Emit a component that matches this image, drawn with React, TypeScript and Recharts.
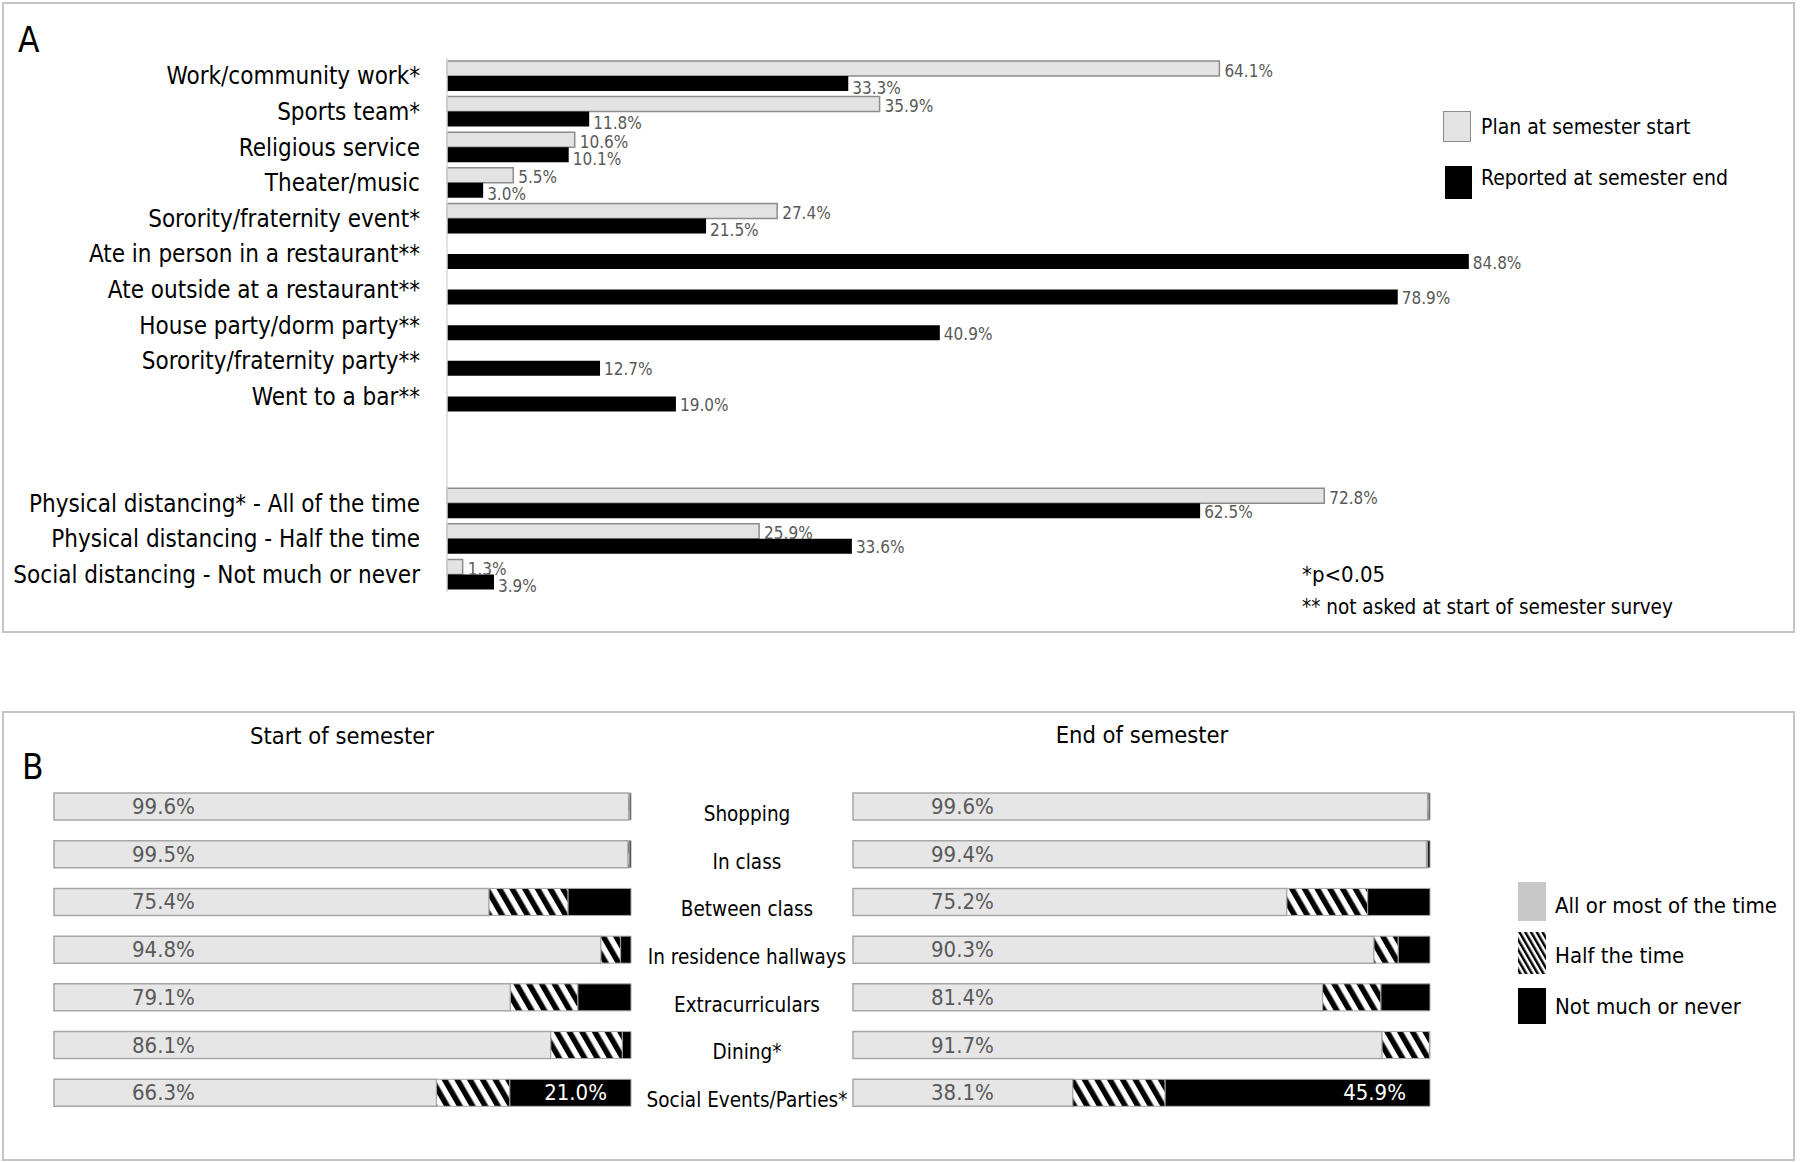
import React from 'react';
import { BarChart, Bar, XAxis, YAxis, LabelList } from 'recharts';

const FONT = "'DejaVu Sans Condensed', 'Liberation Sans Narrow', 'DejaVu Sans', sans-serif";

// Panel A: activities, plan at start vs reported at end (%)
const activities = [
  'Work/community work*',
  'Sports team*',
  'Religious service',
  'Theater/music',
  'Sorority/fraternity event*',
  'Ate in person in a restaurant**',
  'Ate outside at a restaurant**',
  'House party/dorm party**',
  'Sorority/fraternity party**',
  'Went to a bar**',
  ' ',
  '  ',
  'Physical distancing* - All of the time',
  'Physical distancing - Half the time',
  'Social distancing - Not much or never',
];
const planStart = [64.1, 35.9, 10.6, 5.5, 27.4, null, null, null, null, null, null, null, 72.8, 25.9, 1.3];
const reportedEnd = [33.3, 11.8, 10.1, 3.0, 21.5, 84.8, 78.9, 40.9, 12.7, 19.0, null, null, 62.5, 33.6, 3.9];

// Panel B: distancing by setting (%)
const settings = ['Shopping', 'In class', 'Between class', 'In residence hallways', 'Extracurriculars', 'Dining*', 'Social Events/Parties*'];
const startAll = [99.6, 99.5, 75.4, 94.8, 79.1, 86.1, 66.3];
const startHalf = [0.2, 0.2, 13.7, 3.4, 11.7, 12.4, 12.7];
const startNot = [0.2, 0.3, 10.9, 1.8, 9.2, 1.5, 21.0];
const endAll = [99.6, 99.4, 75.2, 90.3, 81.4, 91.7, 38.1];
const endHalf = [0.2, 0.2, 14.0, 4.2, 10.1, 8.2, 16.0];
const endNot = [0.2, 0.4, 10.8, 5.5, 8.5, 0.1, 45.9];

const dataA = activities.map((name, i) => ({ name, plan: planStart[i], reported: reportedEnd[i] }));
const dataStart = settings.map((name, i) => ({ name, all: startAll[i], half: startHalf[i], not: startNot[i] }));
const dataEnd = settings.map((name, i) => ({ name, all: endAll[i], half: endHalf[i], not: endNot[i] }));

const pct = (v: any) => `${Number(v).toFixed(1)}%`;

const planLabel = (props: any) => {
  const { x, y, width, height, value } = props;
  if (value == null) return null;
  return (
    <text x={Number(x) + Number(width) + 5} y={Number(y) + Number(height) / 2 + 2} dominantBaseline="central"
      fill="#595959" fontSize={17} fontFamily={FONT}>{pct(value)}</text>
  );
};

// reported labels sit a little lower when a plan bar is drawn above them
const reportedLabel = (props: any) => {
  const { x, y, width, height, value, index } = props;
  if (value == null) return null;
  const dy = planStart[index] == null ? 1 : 4;
  return (
    <text x={Number(x) + Number(width) + 4} y={Number(y) + Number(height) / 2 + dy} dominantBaseline="central"
      fill="#595959" fontSize={17} fontFamily={FONT}>{pct(value)}</text>
  );
};

const allLabel = (props: any) => {
  const { x, y, height, value } = props;
  return (
    <text x={Number(x) + 78} y={Number(y) + Number(height) / 2} dominantBaseline="central"
      fill="#595959" fontSize={22} fontFamily={FONT}>{pct(value)}</text>
  );
};

const notLabel = (props: any) => {
  const { x, y, width, height, value } = props;
  if (value == null || value < 20) return null;
  return (
    <text x={Number(x) + Number(width) - 24} y={Number(y) + Number(height) / 2} dominantBaseline="central"
      textAnchor="end" fill="#fff" fontSize={22} fontFamily={FONT}>{pct(value)}</text>
  );
};

function HatchDefs({ id, size = 11, stroke = 5.5 }: { id: string; size?: number; stroke?: number }) {
  return (
    <defs>
      <pattern id={id} width={size} height={size} patternUnits="userSpaceOnUse" patternTransform="rotate(-30)">
        <rect width={size} height={size} fill="#fff" />
        <rect width={stroke} height={size} fill="#000" />
      </pattern>
    </defs>
  );
}

function StackedPanel({ data, id, withLabels }: { data: any[]; id: string; withLabels?: boolean }) {
  const w = withLabels ? 860 : 700;
  return (
    <BarChart
      width={w}
      height={448}
      data={data}
      layout="vertical"
      barSize={27}
      margin={withLabels ? { top: 72, right: 70, bottom: 42, left: 0 } : { top: 72, right: 69, bottom: 42, left: 54 }}
    >
      <HatchDefs id={id} />
      <XAxis type="number" domain={[0, 100]} hide />
      <YAxis
        type="category"
        dataKey="name"
        hide={!withLabels}
        width={213}
        axisLine={false}
        tickLine={false}
        interval={0}
        tick={(p: any) => (
          <text x={107} y={Number(p.y) + 7} textAnchor="middle" dominantBaseline="central"
            fill="#000" fontSize={20.5} fontFamily={FONT}>{p.payload.value}</text>
        )}
      />
      <Bar dataKey="all" stackId="s" fill="#e6e6e6" stroke="#a6a6a6" strokeWidth={1.5} isAnimationActive={false}>
        <LabelList dataKey="all" content={allLabel} />
      </Bar>
      <Bar dataKey="half" stackId="s" fill={`url(#${id})`} stroke="#a6a6a6" strokeWidth={1} isAnimationActive={false} />
      <Bar dataKey="not" stackId="s" fill="#000" stroke="#a6a6a6" strokeWidth={1} isAnimationActive={false}>
        <LabelList dataKey="not" content={notLabel} />
      </Bar>
    </BarChart>
  );
}

const abs = (left: number, top: number): React.CSSProperties => ({ position: 'absolute', left, top });

function Txt({ x, y, size, children, center }: { x: number; y: number; size: number; children: React.ReactNode; center?: boolean }) {
  return (
    <div style={{
      ...abs(x, y), fontSize: size, fontFamily: FONT, color: '#000', whiteSpace: 'nowrap', lineHeight: 1,
      transform: center ? 'translate(-50%, -50%)' : 'translateY(-50%)',
    }}>{children}</div>
  );
}

export default function App() {
  return (
    <div style={{ position: 'absolute', left: 0, top: 0, width: 1800, height: 1162, background: '#fff', fontFamily: FONT }}>
      {/* panel frames */}
      <div style={{ ...abs(2, 2), width: 1789, height: 627, border: '2px solid #c4c4c4' }} />
      <div style={{ ...abs(2, 711), width: 1789, height: 446, border: '2px solid #c4c4c4' }} />

      <Txt x={18} y={40} size={35}>A</Txt>
      <Txt x={22} y={767} size={35}>B</Txt>

      <div style={abs(0, 0)}>
        <BarChart
          width={1800}
          height={640}
          data={dataA}
          layout="vertical"
          barSize={15}
          barGap={0}
          margin={{ top: 58, right: 148, bottom: 48, left: 0 }}
        >
          <XAxis type="number" domain={[0, 100]} hide />
          <YAxis
            type="category"
            dataKey="name"
            width={447}
            interval={0}
            tickLine={false}
            tickMargin={21}
            axisLine={{ stroke: '#d9d9d9', strokeWidth: 1.5 }}
            tick={{ fill: '#000', fontSize: 24, fontFamily: FONT }}
          />
          <Bar dataKey="plan" fill="#e3e3e3" stroke="#8c8c8c" strokeWidth={1.5} isAnimationActive={false}>
            <LabelList dataKey="plan" content={planLabel} />
          </Bar>
          <Bar dataKey="reported" fill="#000" isAnimationActive={false}>
            <LabelList dataKey="reported" content={reportedLabel} />
          </Bar>
        </BarChart>
      </div>

      {/* legend A */}
      <div style={{ ...abs(1443, 111), width: 26, height: 29, background: '#e3e3e3', border: '1.5px solid #8c8c8c' }} />
      <Txt x={1481} y={127} size={21}>Plan at semester start</Txt>
      <div style={{ ...abs(1445, 166), width: 27, height: 33, background: '#000' }} />
      <Txt x={1481} y={178} size={21}>Reported at semester end</Txt>

      <Txt x={1302} y={575} size={22}>*p&lt;0.05</Txt>
      <Txt x={1302} y={607} size={20.5}>** not asked at start of semester survey</Txt>

      {/* panel B */}
      <Txt x={342} y={737} size={23.5} center>Start of semester</Txt>
      <Txt x={1142} y={736} size={23.5} center>End of semester</Txt>

      <div style={abs(0, 711)}>
        <StackedPanel data={dataStart} id="hatchStart" />
      </div>
      <div style={abs(640, 711)}>
        <StackedPanel data={dataEnd} id="hatchEnd" withLabels />
      </div>

      {/* legend B */}
      <div style={{ ...abs(1518, 882), width: 28, height: 39, background: '#c8c8c8' }} />
      <Txt x={1555} y={906} size={22}>All or most of the time</Txt>
      <svg style={abs(1518, 932)} width={28} height={42}>
        <defs>
          <pattern id="hatchLegend" width={5} height={5} patternUnits="userSpaceOnUse" patternTransform="rotate(-30)">
            <rect width={5} height={5} fill="#fff" />
            <rect width={2.5} height={5} fill="#000" />
          </pattern>
        </defs>
        <rect width={28} height={42} fill="url(#hatchLegend)" />
      </svg>
      <Txt x={1555} y={956} size={22}>Half the time</Txt>
      <div style={{ ...abs(1518, 988), width: 28, height: 36, background: '#000' }} />
      <Txt x={1555} y={1007} size={22}>Not much or never</Txt>
    </div>
  );
}
